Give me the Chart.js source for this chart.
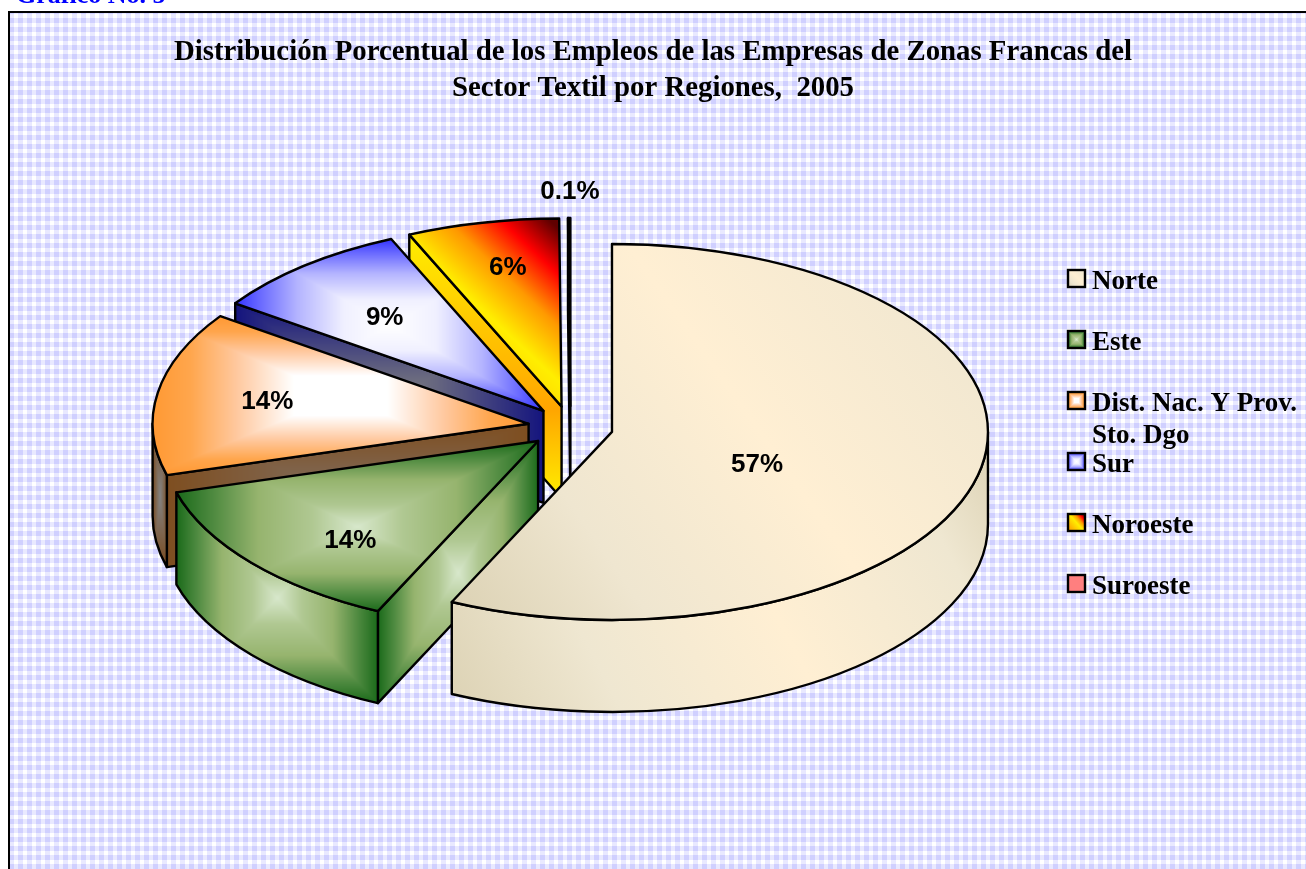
<!DOCTYPE html>
<html><head><meta charset="utf-8">
<style>html,body{margin:0;padding:0;background:#fff;overflow:hidden}canvas{display:block}</style>
<script src="https://cdn.jsdelivr.net/npm/chart.js@4"></script>
</head><body><canvas id="c" width="1306" height="869"></canvas>
<script>
const headerText = 'Gráfico No. 5';
const titleLines = ['Distribución Porcentual de los Empleos de las Empresas de Zonas Francas del','Sector Textil por Regiones,  2005'];
const categories = ['Norte','Este','Dist. Nac. Y Prov. Sto. Dgo','Sur','Noroeste','Suroeste'];
const shares = [56.6,13.5,14,8.6,6.49,0.1];
const shareLabels = ['57%','14%','14%','9%','6%','0.1%'];

const TILT = 0.5, DEPTH = 92, EXPLODE = 170, PIE_SHIFT_X = -82.5;
const labelRadius = [0.39,0.70,0.71,0.66,0.73,1.145];
const labelShiftX = [2,13,2,-1,4,1];
const labelShiftY = [17,15,0,3,-5,1];
const rectG = (...stops)=>({kind:'rect',stops});
const linG = (dir,...stops)=>({kind:'lin',dir,stops});
const creamDir=[0,1,1,0];
const creamTop=[[0,'#DBD1B3'],[.25,'#EFE6D0'],[.55,'#FFEFD3'],[1,'#EDE5D0']];
const creamSide=[[0,'#DCD2B4'],[.25,'#EFE7D1'],[.55,'#FFEFD3'],[.85,'#EFE7D1'],[1,'#DCD2B4']];
const green=[[0,'#D8E8CC'],[.25,'#B0C892'],[.55,'#96B46E'],[.8,'#4E8A40'],[1,'#1A6A1A']];
const salmon=[[0,'#FF7F7F'],[1,'#FF7F7F']];
const faces = [
 {top:linG(creamDir,...creamTop), radial:linG(creamDir,...creamSide), side:linG(creamDir,...creamSide)},
 {top:rectG(...green), radial:rectG(...green), side:rectG(...green)},
 {top:rectG([0,'#FFFFFF'],[.25,'#FFFFFF'],[.55,'#FFC9A0'],[.8,'#FFA64D'],[1,'#FF9933']),
  radial:rectG([0,'#806E60'],[1,'#7E4E20']),
  side:rectG([0,'#848484'],[1,'#7A4A1E'])},
 {top:rectG([0,'#FFFFFF'],[.3,'#F0F0FF'],[.6,'#B4B4FF'],[.85,'#6666FF'],[1,'#3333FF']),
  radial:rectG([0,'#808080'],[.3,'#66667F'],[1,'#14147E']),
  side:rectG([0,'#808080'],[1,'#14147E'])},
 {top:linG([0,.93,1,.07],[0,'#FF9900'],[.5,'#FFEE00'],[.68,'#FF9900'],[.85,'#FF0000'],[1,'#600000']),
  radial:linG([0,0,0,1],[0,'#FFEE00'],[.66,'#FFA500'],[1,'#FFEE00']),
  side:linG([0,0,0,1],[0,'#FFEE00'],[1,'#FFA500'])},
 {top:rectG(...salmon), radial:rectG(...salmon), side:rectG(...salmon)}
];

function hex(c){return [1,3,5].map(i=>parseInt(c.substr(i,2),16));}
function sample(stops,t){
  for(let i=1;i<stops.length;i++){ if(t<=stops[i][0]){
    const [a,ca]=stops[i-1],[b,cb]=stops[i],f=b>a?(t-a)/(b-a):0,A=hex(ca),B=hex(cb);
    return A.map((v,k)=>v+(B[k]-v)*f);} }
  return hex(stops[stops.length-1][1]);
}
function paint(ctx,box,style){
  const [x0,y0,x1,y1]=box;
  if(style.kind==='lin'){
    const d=style.dir,w=x1-x0,h=y1-y0;
    const g=ctx.createLinearGradient(x0+d[0]*w,y0+d[1]*h,x0+d[2]*w,y0+d[3]*h);
    style.stops.forEach(s=>g.addColorStop(s[0],s[1]));
    ctx.fillStyle=g; ctx.fillRect(x0-2,y0-2,w+4,h+4); return;
  }
  const w=Math.max(1,Math.ceil(x1-x0)),h=Math.max(1,Math.ceil(y1-y0));
  const off=document.createElement('canvas'); off.width=w; off.height=h;
  const oc=off.getContext('2d'),img=oc.createImageData(w,h);
  for(let j=0;j<h;j++)for(let i=0;i<w;i++){
    const t=Math.min(1,Math.max(Math.abs(i+.5-w/2)/(w/2),Math.abs(j+.5-h/2)/(h/2)));
    const c=sample(style.stops,t),p=(j*w+i)*4;
    img.data[p]=c[0];img.data[p+1]=c[1];img.data[p+2]=c[2];img.data[p+3]=255;
  }
  oc.putImageData(img,0,0);
  ctx.drawImage(off,x0,y0);
}
function face(ctx,build,box,style){
  ctx.save(); ctx.beginPath(); build(); ctx.clip(); paint(ctx,box,style); ctx.restore();
  ctx.beginPath(); build(); ctx.lineWidth=2.4; ctx.strokeStyle='#000'; ctx.lineJoin='round'; ctx.stroke();
}
function arcBox(cx,cy,r,a0,a1,extra){
  const pts=[...extra];
  for(let k=0;k<=60;k++){const a=a0+(a1-a0)*k/60;pts.push([cx+r*Math.cos(a),cy+r*TILT*Math.sin(a)]);}
  return [Math.min(...pts.map(p=>p[0])),Math.min(...pts.map(p=>p[1])),Math.max(...pts.map(p=>p[0])),Math.max(...pts.map(p=>p[1]))];
}
function sliceCentre(arc){
  const mid=(arc.startAngle+arc.endAngle)/2,off=arc.options.offset/4;
  return [arc.x+PIE_SHIFT_X+Math.cos(mid)*off,arc.y+Math.sin(mid)*off*TILT];
}
function drawSlice(ctx,arc,st){
  const [cx,cy]=sliceCentre(arc),r=arc.outerRadius,s=arc.startAngle,e=arc.endAngle,ry=r*TILT;
  const radial=a=>{
    const px=cx+r*Math.cos(a),py=cy+ry*Math.sin(a);
    face(ctx,()=>{ctx.moveTo(cx,cy);ctx.lineTo(px,py);ctx.lineTo(px,py+DEPTH);ctx.lineTo(cx,cy+DEPTH);ctx.closePath();},
      [Math.min(cx,px),Math.min(cy,py),Math.max(cx,px),Math.max(cy,py)+DEPTH],st.radial);
  };
  if(Math.cos(s)<-1e-6) radial(s);
  if(Math.cos(e)>1e-6) radial(e);
  const a0=Math.max(s,0),a1=Math.min(e,Math.PI);
  if(a0<a1){
    const b=arcBox(cx,cy,r,a0,a1,[]); b[3]+=DEPTH;
    face(ctx,()=>{ctx.ellipse(cx,cy,r,ry,0,a0,a1);ctx.ellipse(cx,cy+DEPTH,r,ry,0,a1,a0,true);ctx.closePath();},b,st.side);
  }
  face(ctx,()=>{ctx.moveTo(cx,cy);ctx.ellipse(cx,cy,r,ry,0,s,e);ctx.closePath();},arcBox(cx,cy,r,s,e,[[cx,cy]]),st.top);
}
function wrap(ctx,text,maxW){
  const out=[];let line='';
  text.split(' ').forEach(w=>{const t=line?line+' '+w:w;if(ctx.measureText(t).width>maxW&&line){out.push(line);line=w;}else line=t;});
  out.push(line);return out;
}
const backdrop={id:'backdrop',beforeDraw(chart){
  const ctx=chart.ctx,W=chart.width,H=chart.height;
  const tile=document.createElement('canvas');tile.width=tile.height=9;
  const t=tile.getContext('2d');
  t.fillStyle='#FFFFFF';t.fillRect(0,0,9,9);
  t.fillStyle='#E9E9FF';t.fillRect(0,0,5,9);t.fillRect(0,0,9,5);
  t.fillStyle='#D0D0FF';t.fillRect(0,0,5,5);
  ctx.save();
  ctx.fillStyle='#fff';ctx.fillRect(0,0,W,H);
  ctx.fillStyle=ctx.createPattern(tile,'repeat');ctx.fillRect(9,12,W-9,H-12);
  ctx.fillStyle='#000';ctx.fillRect(8,11,W-8,2);ctx.fillRect(8,11,2,H-11);
  ctx.font='bold 26px "Liberation Serif"';ctx.fillStyle='#0000FF';ctx.textBaseline='alphabetic';ctx.textAlign='left';
  ctx.fillText(headerText,16,3);
  ctx.restore();
}};
const pie3d={id:'pie3d',
 beforeDatasetDraw(chart,args){
  const ctx=chart.ctx,arcs=args.meta.data;
  ctx.save();
  for(let i=arcs.length-1;i>=0;i--) drawSlice(ctx,arcs[i],faces[i]);
  ctx.font='bold 26px "Liberation Sans"';ctx.fillStyle='#000';ctx.textAlign='center';ctx.textBaseline='middle';
  arcs.forEach((arc,i)=>{
    const [cx,cy]=sliceCentre(arc),mid=(arc.startAngle+arc.endAngle)/2,r=arc.outerRadius*labelRadius[i];
    ctx.fillText(shareLabels[i],cx+r*Math.cos(mid)+labelShiftX[i],cy+r*TILT*Math.sin(mid)+labelShiftY[i]);
  });
  ctx.restore();
  return false;
 },
 afterDraw(chart){
  const ctx=chart.ctx;
  ctx.save();
  ctx.font='bold 27px "Liberation Serif"';ctx.textBaseline='alphabetic';ctx.textAlign='left';
  const lx=1068,tx=1092;let y=270;
  categories.forEach((name,i)=>{
    const lines=wrap(ctx,name,215);
    const box=[lx,y,lx+17,y+17];
    ctx.save();ctx.beginPath();ctx.rect(lx,y,17,17);ctx.clip();paint(ctx,box,faces[i].top);ctx.restore();
    ctx.lineWidth=2.4;ctx.strokeStyle='#000';ctx.strokeRect(lx,y,17,17);
    ctx.fillStyle='#000';
    lines.forEach((l,k)=>ctx.fillText(l,tx,y+19+k*32));
    y+=61;
  });
  ctx.restore();
 }
};
new Chart(document.getElementById('c'),{
  type:'doughnut',
  data:{labels:categories,datasets:[{data:shares,offset:EXPLODE,borderWidth:0,backgroundColor:'#000'}]},
  options:{
    responsive:false,animation:false,events:[],cutout:0,rotation:0,radius:376,
    layout:{padding:{left:0,right:0,top:0,bottom:120.9}},
    plugins:{
      legend:{display:false},tooltip:{enabled:false},
      title:{display:true,text:titleLines,color:'#000',align:'center',
        font:{family:'"Liberation Serif"',weight:'bold',size:28.8,lineHeight:1.25},
        padding:{top:34.5,bottom:0}}
    }
  },
  plugins:[backdrop,pie3d]
});
</script></body></html>
